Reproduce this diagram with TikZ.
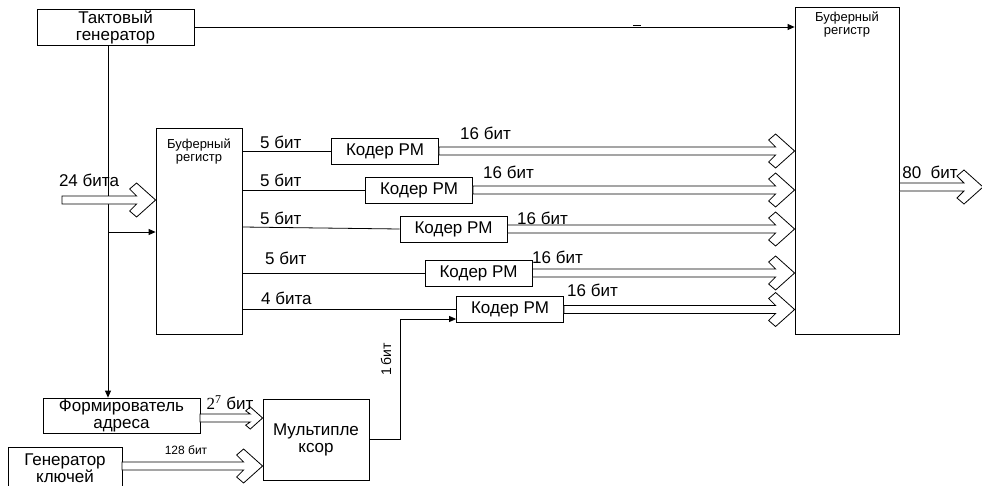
\documentclass[tikz,border=0pt]{standalone}
\usepackage{fontspec}
\setmainfont{Liberation Sans}
\newfontfamily\numserif{Liberation Serif}
\usetikzlibrary{arrows.meta,calc}

% hollow bus arrow: [head scale]{start}{tip}, horizontal
\newcommand{\busarrow}[3][1]{%
  \draw[bus] let \p1=(#2), \p2=(#3) in
    (\x1,\y1+4pt) -- (\x2-19pt*#1,\y1+4pt) -- (\x2-26pt*#1,\y1+11pt*#1)
    -- (\x2-19pt*#1,\y1+17pt*#1) -- (\x2,\y1) -- (\x2-19pt*#1,\y1-17pt*#1)
    -- (\x2-26pt*#1,\y1-11pt*#1) -- (\x2-19pt*#1,\y1-4pt) -- (\x1,\y1-4pt) -- cycle;}

\begin{document}
\begin{tikzpicture}[
  x=1pt, y=-1pt,
  >={Triangle[length=7pt,width=6pt]},
  blk/.style={draw, line width=0.8pt, inner sep=0pt, align=center,
              font=\fontsize{17}{17}\selectfont},
  lbl/.style={font=\fontsize{17}{17}\selectfont, inner sep=0pt},
  small/.style={font=\fontsize{13}{13}\selectfont, align=center, inner sep=0pt},
  wire/.style={line width=0.8pt},
  bus/.style={line width=0.8pt, fill=white}
]
% 1pt = 1px of the 982x485 sheet
\useasboundingbox (0,0) rectangle (982,485);

%% --- Blocks ---------------------------------------------------
\node[blk, minimum width=157pt, minimum height=36pt] (tactgen) at (115.5,27)
     {Тактовый\\генератор};
\node[blk, minimum width=86pt, minimum height=206pt,
      label={[small, anchor=north, yshift=-11pt]north:{Буферный\\регистр}}]
     (bufin) at (199,231) {};
\node[blk, minimum width=104pt, minimum height=327pt,
      label={[small, anchor=north, yshift=-5pt]north:{Буферный\\регистр}}]
     (bufout) at (847,170.5) {};
\node[blk, minimum width=157pt, minimum height=35pt] (addrgen) at (121.5,415.5)
     {Формирователь\\адреса};
\node[blk, minimum width=114pt, minimum height=42pt] (keygen) at (65,468)
     {Генератор\\ключей};
\node[blk, minimum width=106pt, minimum height=81pt] (mux) at (316,439.5)
     {Мультипле\\ксор};

% coders
\foreach \i/\x/\y in {1/385/151, 2/419/190, 3/453.5/229, 4/478.5/273, 5/510/309.5}
  \node[blk, minimum width=107pt, minimum height=26pt] (coder\i) at (\x,\y) {Кодер РМ};

%% --- Clock lines ----------------------------------------------
\coordinate (clk) at (108,232);
\draw[wire, ->] (tactgen.east) -- (tactgen.east -| bufout.west);
\draw[line width=1.4pt] (633,25.5) -- (641,25.5);
\draw[wire, ->] (tactgen.south -| clk) -- (addrgen.north -| clk);
\draw[wire, ->] (clk) -- (clk -| bufin.west);

%% --- Buffer -> coders -----------------------------------------
\foreach \i in {1,2,4,5}
  \draw[wire] (coder\i.west -| bufin.east) -- (coder\i.west);
\draw[wire] ($(coder3.west -| bufin.east)+(0,-2)$) -- (coder3.west);

\foreach \x/\y/\t in {260/142/5 бит, 260/180/5 бит, 260/218/5 бит,
                      265/258/5 бит, 261/298/4 бита}
  \node[lbl, anchor=west] at (\x,\y) {\t};

%% --- Coders -> output buffer (buses) --------------------------
\foreach \i in {1,...,5}
  \busarrow{coder\i.east}{coder\i.east -| bufout.west};

\foreach \x/\y in {460/133, 483/172, 517/218, 532/257, 567/290}
  \node[lbl, anchor=west] at (\x,\y) {16 бит};

%% --- Input and output buses -----------------------------------
\coordinate (din) at (62,200);
\busarrow{din}{din -| bufin.west};
\node[lbl] at (89,180) {24 бита};

\coordinate (dout) at (983,187);
\busarrow{bufout.east |- dout}{dout};
\node[lbl] at (930,172) {80\ \ бит};

%% --- Key path -------------------------------------------------
\coordinate (abus) at (200,418);
\busarrow[0.65]{abus}{abus -| mux.west};
\node[lbl] at (230,403) {{\numserif 2\textsuperscript{7}} бит};

\coordinate (kbus) at (122,466);
\busarrow{kbus}{kbus -| mux.west};
\node[lbl, font=\fontsize{12}{12}\selectfont] at (186,450) {128 бит};

\coordinate (bit1) at (400,319);
\draw[wire, ->] (mux.east) -| (bit1) -- (bit1 -| coder5.west);
\node[lbl, rotate=90, font=\fontsize{14}{14}\selectfont] at (386,359) {1\,бит};

\end{tikzpicture}
\end{document}
